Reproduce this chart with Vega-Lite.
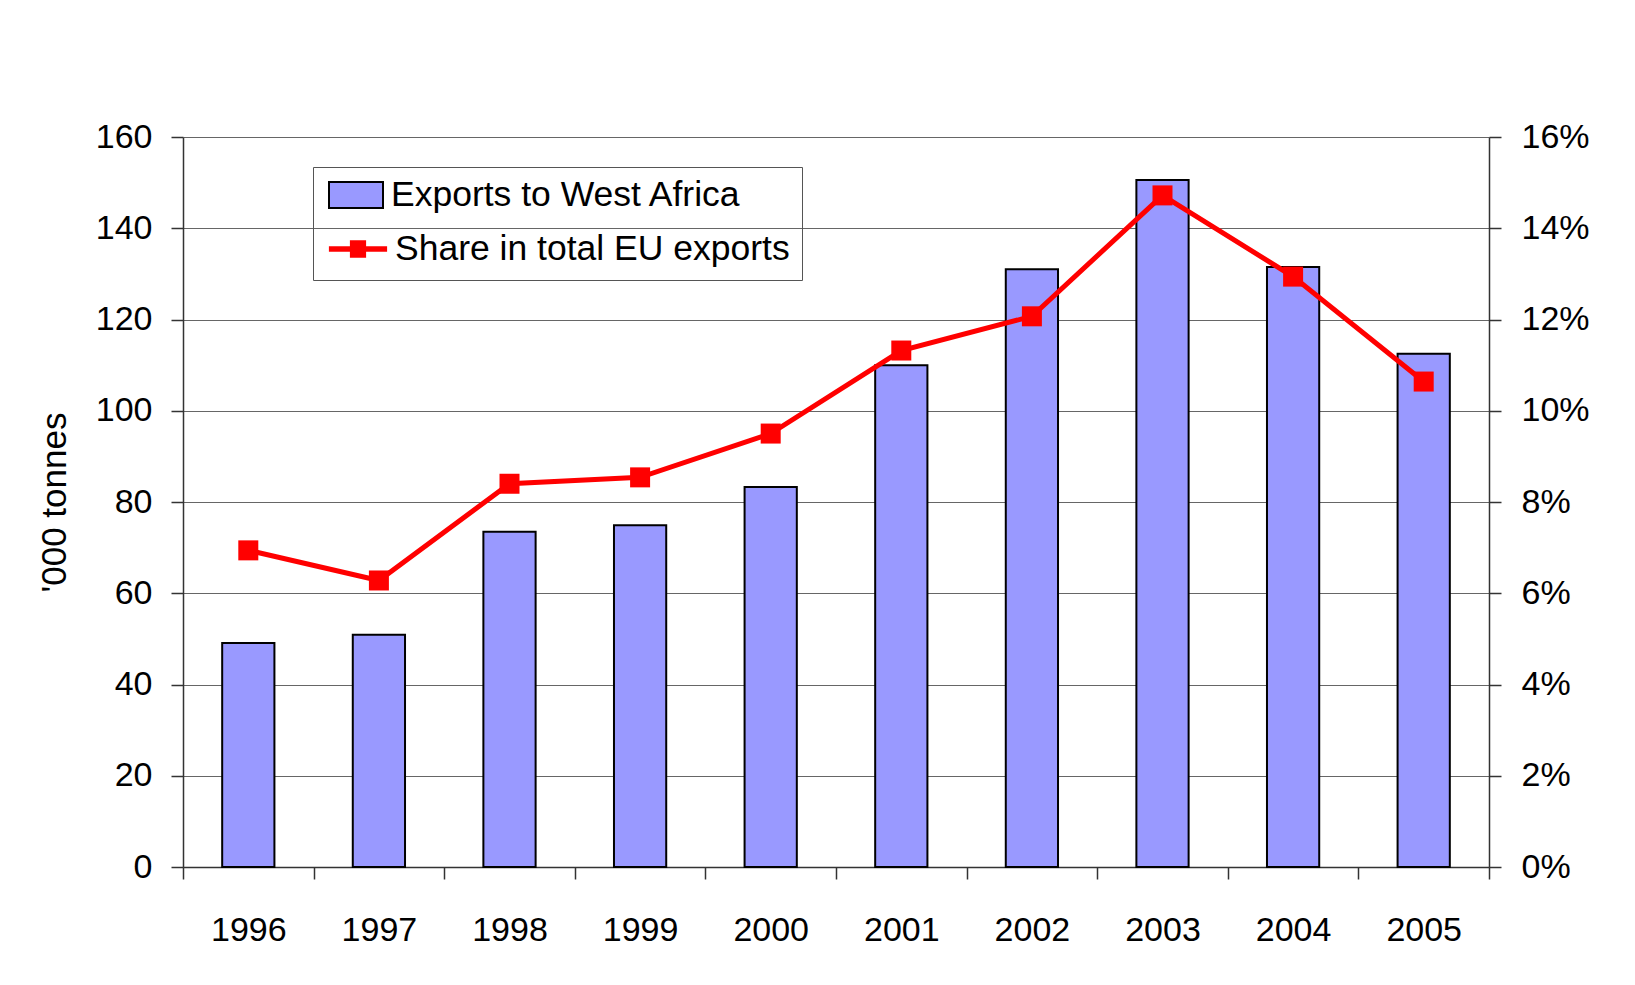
{
  "$schema": "https://vega.github.io/schema/vega-lite/v6.json",
  "autosize": {"type": "none"},
  "width": 1306,
  "height": 730,
  "padding": {"left": 183, "top": 137, "right": 146, "bottom": 118},
  "background": "white",
  "config": {
    "font": "Liberation Sans",
    "view": {"stroke": null},
    "axis": {"labelFontSize": 34, "labelColor": "black", "domainColor": "#333", "tickColor": "#333", "tickSize": 12, "domainWidth": 1.5, "tickWidth": 1.5, "titleFontWeight": "normal", "titleColor": "black", "titleFontSize": 35}
  },
  "data": {
    "values": [
      {"year": "1996", "exports": 49.1, "share": 0.0694},
      {"year": "1997", "exports": 50.9, "share": 0.0628},
      {"year": "1998", "exports": 73.5, "share": 0.0840},
      {"year": "1999", "exports": 74.9, "share": 0.0854},
      {"year": "2000", "exports": 83.3, "share": 0.0950},
      {"year": "2001", "exports": 110.0, "share": 0.1132},
      {"year": "2002", "exports": 131.0, "share": 0.1207},
      {"year": "2003", "exports": 150.6, "share": 0.1472},
      {"year": "2004", "exports": 131.5, "share": 0.1294},
      {"year": "2005", "exports": 112.5, "share": 0.1064}
    ]
  },
  "encoding": {
    "x": {
      "field": "year", "type": "ordinal",
      "scale": {"paddingInner": 0, "paddingOuter": 0},
      "axis": {"title": null, "labelAngle": 0, "tickBand": "extent", "labelPadding": 34, "grid": false}
    }
  },
  "layer": [
    {
      "mark": {"type": "bar", "width": {"band": 0.4}, "stroke": "black", "strokeWidth": 2},
      "encoding": {
        "y": {
          "field": "exports", "type": "quantitative",
          "scale": {"domain": [0, 160], "nice": false},
          "axis": {"title": "'000 tonnes", "values": [0, 20, 40, 60, 80, 100, 120, 140, 160], "grid": true, "gridColor": "#666", "gridWidth": 1, "labelPadding": 19, "titlePadding": 23}
        },
        "fill": {
          "datum": "Exports to West Africa", "type": "nominal",
          "scale": {"domain": ["Exports to West Africa"], "range": ["#9999ff"]},
          "legend": {
            "title": null,
            "orient": "none", "legendX": 130, "legendY": 31,
            "fillColor": "white", "padding": 12,
            "labelFontSize": 35.5, "labelColor": "black", "labelLimit": 0, "labelOffset": 4,
            "symbolType": "M-0.9,-0.43H0.9V0.43H-0.9Z", "symbolSize": 3600, "clipHeight": 30,
            "symbolStrokeColor": "black", "symbolStrokeWidth": 2, "symbolOpacity": 1
          }
        }
      }
    },
    {
      "encoding": {
        "y": {
          "field": "share", "type": "quantitative",
          "scale": {"domain": [0, 0.16], "nice": false},
          "axis": {"title": null, "orient": "right", "format": ".0%", "values": [0, 0.02, 0.04, 0.06, 0.08, 0.1, 0.12, 0.14, 0.16], "grid": false, "labelPadding": 20}
        }
      },
      "layer": [
        {
          "mark": {"type": "line", "strokeWidth": 5},
          "encoding": {
            "color": {
              "datum": "Share in total EU exports", "type": "nominal",
              "scale": {"domain": ["Share in total EU exports"], "range": ["#ff0000"]},
              "legend": {
                "title": "\u00a0", "titleOrient": "top", "titleColor": "#ffffff", "titleFontSize": 36, "titleFontWeight": "normal", "titlePadding": 19,
                "orient": "none", "legendX": 130, "legendY": 30,
                "strokeColor": "#555", "padding": 12,
                "labelFontSize": 35.5, "labelColor": "black", "labelLimit": 0, "labelOffset": 4,
                "symbolType": "M-0.97,0H0.97M-0.27,-0.2H0.27M-0.27,-0.1H0.27M-0.27,0.1H0.27M-0.27,0.2H0.27",
                "symbolSize": 3600, "clipHeight": 30, "symbolStrokeWidth": 5.5, "symbolOpacity": 1
              }
            }
          }
        },
        {
          "mark": {"type": "point", "shape": "square", "filled": true, "size": 400, "color": "#ff0000", "opacity": 1}
        }
      ]
    }
  ],
  "resolve": {"scale": {"y": "independent"}}
}
